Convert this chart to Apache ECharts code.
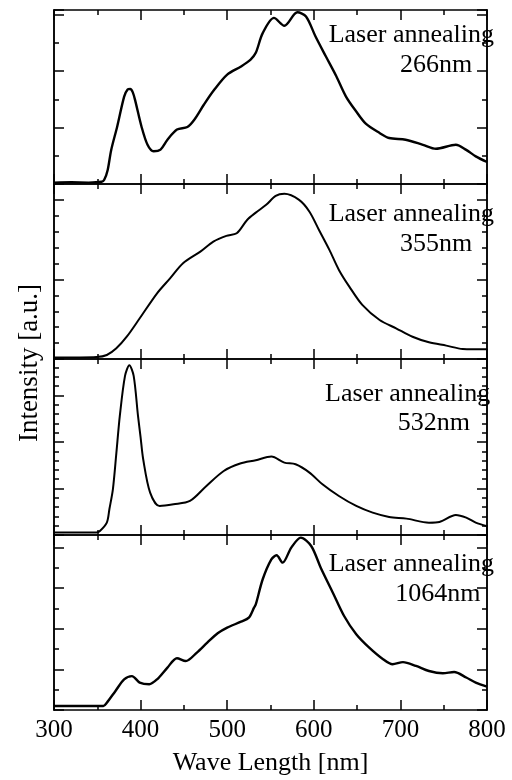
<!DOCTYPE html>
<html>
<head>
<meta charset="utf-8">
<script src="https://cdn.jsdelivr.net/npm/echarts@6/dist/echarts.min.js"></script>
<style>
  html, body { margin: 0; padding: 0; background: #fff; }
  #main { width: 512px; height: 780px; }
</style>
</head>
<body>
<div id="main"></div>
<script>
// wave length (nm) and intensity (a.u.), one pair of arrays per panel
var wl266 = [300, 320, 340, 355, 358, 362, 366, 373, 381, 385, 388, 391, 394, 401, 408, 415, 423, 431, 442, 454, 462, 473, 485, 500, 516, 527, 533, 541, 554, 566, 581, 591, 602, 614, 626, 637, 649, 660, 676, 687, 706, 726, 741, 764, 776, 787, 800];
var int266 = [0.05, 0.06, 0.05, 0.08, 0.15, 0.5, 1.2, 2.04, 3.1, 3.35, 3.37, 3.25, 2.93, 2.04, 1.39, 1.16, 1.22, 1.57, 1.93, 2.02, 2.28, 2.81, 3.34, 3.88, 4.17, 4.41, 4.65, 5.35, 5.89, 5.61, 6.09, 5.94, 5.23, 4.52, 3.82, 3.11, 2.57, 2.14, 1.81, 1.63, 1.57, 1.39, 1.25, 1.39, 1.21, 0.98, 0.78];

var wl355 = [300, 330, 349, 361, 372, 384, 399, 419, 434, 449, 469, 484, 499, 511, 523, 533, 545, 556, 566, 583, 595, 606, 618, 629, 641, 656, 676, 695, 714, 733, 753, 772, 800];
var int355 = [0.1, 0.1, 0.12, 0.25, 0.67, 1.4, 2.56, 4.13, 5.07, 6.02, 6.75, 7.38, 7.74, 7.9, 8.74, 9.2, 9.69, 10.25, 10.38, 10.0, 9.26, 8.11, 6.86, 5.6, 4.55, 3.4, 2.45, 1.93, 1.4, 1.05, 0.84, 0.63, 0.61];

var wl532 = [300, 340, 349, 353, 361, 364, 368, 372, 376, 382, 387, 392, 397, 400, 403, 411, 422, 438, 457, 476, 496, 515, 533, 551, 566, 579, 595, 610, 629, 649, 668, 687, 707, 733, 745, 764, 776, 787, 800];
var int532 = [0.26, 0.26, 0.28, 0.43, 1.33, 2.8, 4.9, 8.8, 12.8, 17.1, 18.25, 17.1, 12.8, 10.5, 8.14, 4.56, 3.12, 3.3, 3.66, 5.27, 6.88, 7.68, 8.03, 8.43, 7.78, 7.6, 6.71, 5.45, 4.19, 3.12, 2.4, 1.94, 1.76, 1.33, 1.4, 2.15, 1.87, 1.33, 0.95];

var wl1064 = [300, 330, 357, 361, 371, 381, 390, 399, 410, 419, 431, 442, 452, 465, 477, 489, 500, 516, 525, 531, 533, 541, 551, 557, 564, 574, 585, 597, 608, 622, 635, 649, 664, 680, 691, 703, 718, 733, 749, 762, 776, 787, 800];
var int1064 = [0.2, 0.2, 0.2, 0.36, 0.94, 1.51, 1.67, 1.35, 1.27, 1.51, 2.09, 2.55, 2.41, 2.83, 3.32, 3.78, 4.06, 4.35, 4.55, 5.04, 5.2, 6.44, 7.42, 7.62, 7.26, 8.0, 8.49, 8.08, 7.01, 5.78, 4.63, 3.73, 3.07, 2.5, 2.25, 2.36, 2.17, 1.92, 1.81, 1.87, 1.6, 1.35, 1.15];

var xTicks = [300, 400, 500, 600, 700, 800];
var labels = ['266nm', '355nm', '532nm', '1064nm'];

var FONT = 'Liberation Serif, Times New Roman, serif';
var myChart = echarts.init(document.getElementById('main'));

function pairs(xs, ys) {
    var out = [];
    for (var i = 0; i < xs.length; i++) out.push([xs[i], ys[i]]);
    return out;
}

// panel layout: top, height, y max, major step, minor step, line width
var panels = [
    {top: 10, height: 174, max: 6.17, major: 2, minor: 1, data: pairs(wl266, int266), lw: 2.4},
    {top: 184, height: 175, max: 11.0, major: 5, minor: 1, data: pairs(wl355, int355), lw: 2},
    {top: 359, height: 176, max: 18.92, major: 5, minor: 1, data: pairs(wl532, int532), lw: 2},
    {top: 535, height: 175, max: 8.62, major: 2, minor: 1, data: pairs(wl1064, int1064), lw: 2.4}
];

var grid = [], xAxis = [], yAxis = [], series = [], graphic = [];
var lineStyle = {color: '#000', width: 1.5};

panels.forEach(function (p, i) {
    grid.push({left: 54, right: 25, top: p.top, height: p.height, outerBoundsMode: 'none'});
    ['bottom', 'top'].forEach(function (pos) {
        xAxis.push({
            type: 'value', gridIndex: i, position: pos,
            min: xTicks[0], max: xTicks[xTicks.length - 1], interval: 100,
            axisLine: {show: true, onZero: false, lineStyle: lineStyle},
            axisTick: {show: true, inside: true, length: 10, lineStyle: lineStyle},
            minorTick: {show: true, splitNumber: 2, length: 5, lineStyle: lineStyle},
            splitLine: {show: false},
            axisLabel: {
                show: i === 3 && pos === 'bottom',
                color: '#000', fontFamily: FONT, fontSize: 25, margin: 8
            },
            name: (i === 3 && pos === 'bottom') ? 'Wave Length [nm]' : '',
            nameLocation: 'middle', nameGap: 40,
            nameTextStyle: {color: '#000', fontFamily: FONT, fontSize: 26}
        });
    });
    ['left', 'right'].forEach(function (pos) {
        [[p.major, 10], [p.minor, 5]].forEach(function (t) {
            yAxis.push({
                type: 'value', gridIndex: i, position: pos,
                min: 0, max: p.max, interval: t[0],
                axisLine: {show: true, onZero: false, lineStyle: lineStyle},
                axisTick: {show: true, inside: true, length: t[1], lineStyle: lineStyle},
                splitLine: {show: false},
                axisLabel: {show: false}
            });
        });
    });
    series.push({
        type: 'line', xAxisIndex: i * 2, yAxisIndex: i * 4,
        data: p.data, showSymbol: false, smooth: 0.3,
        lineStyle: {color: '#000', width: p.lw}
    });
});

// legend-like annotations in each panel
var ann = [
    [328.7, 35.5, 400, 65],
    [328.7, 214.5, 400, 244],
    [325, 394, 397.7, 423],
    [328.7, 564.5, 395.3, 594]
];
ann.forEach(function (a, i) {
    graphic.push({type: 'text', z: 100, style: {text: 'Laser annealing', x: a[0], y: a[1], fill: '#000', font: '26px ' + FONT, align: 'left', verticalAlign: 'middle'}});
    graphic.push({type: 'text', z: 100, style: {text: labels[i], x: a[2], y: a[3], fill: '#000', font: '26px ' + FONT, align: 'left', verticalAlign: 'middle'}});
});
graphic.push({
    type: 'text', z: 100, x: 30, y: 363, rotation: Math.PI / 2,
    style: {text: 'Intensity [a.u.]', fill: '#000', font: '27px ' + FONT, align: 'center', verticalAlign: 'middle'}
});

var option = {
    animation: false,
    backgroundColor: '#fff',
    grid: grid,
    xAxis: xAxis,
    yAxis: yAxis,
    series: series,
    graphic: graphic
};
myChart.setOption(option);
</script>
</body>
</html>
